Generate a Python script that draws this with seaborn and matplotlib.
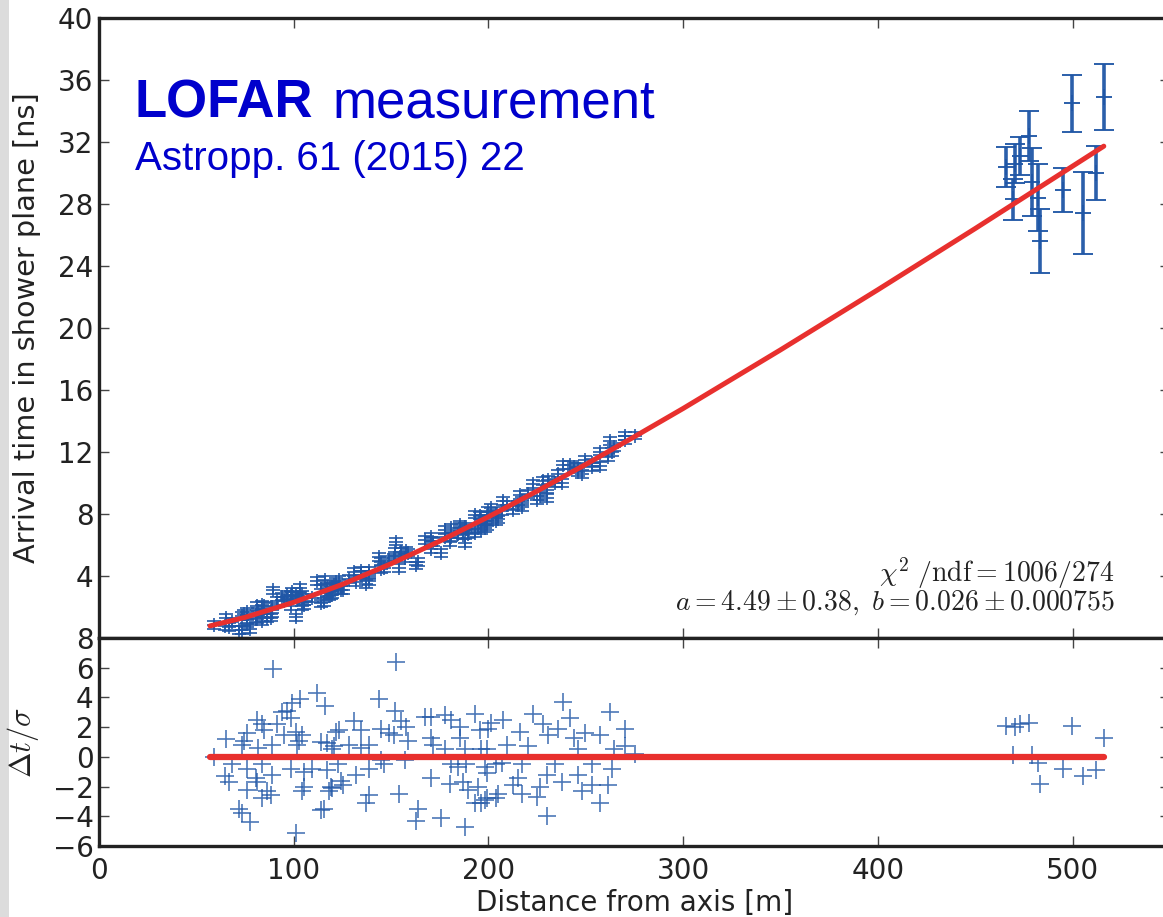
import matplotlib
matplotlib.use("Agg")
import numpy as np
import pandas as pd
import seaborn as sns
import matplotlib.pyplot as plt
from matplotlib.patches import Rectangle

# ---------------- data ----------------
near_distance = [58.9, 64.9, 65.3, 66.6, 68.4, 71.8, 73.5, 73.5, 74.4, 76.1, 76.1, 76.1, 77.8, 80.4,
                 81.3, 81.3, 81.6, 83.9, 83.9, 83.9, 84.5, 86.4, 88.1, 89.0, 89.0, 89.5, 91.6, 94.2,
                 95.0, 96.4, 98.5, 98.5, 99.3, 101.0, 101.0, 101.9, 102.7, 103.1, 104.4, 104.5, 105.3,
                 105.3, 109.6, 111.7, 113.9, 113.9, 115.6, 116.1, 117.3, 117.3, 118.2, 119.0, 119.9,
                 119.9, 120.8, 121.6, 122.5, 123.4, 124.2, 125.1, 128.5, 130.7, 132.0, 134.5, 134.5,
                 137.1, 138.4, 138.8, 138.8, 143.6, 144.8, 144.8, 146.5, 149.1, 151.7, 152.2, 152.6,
                 154.3, 155.2, 156.9, 157.7, 158.6, 162.9, 163.7, 167.2, 170.6, 170.6, 170.6, 171.5,
                 175.8, 177.5, 177.5, 180.0, 180.9, 180.9, 184.3, 185.2, 185.6, 186.9, 187.8, 187.8,
                 188.7, 189.5, 192.9, 192.9, 194.7, 195.5, 196.4, 196.4, 198.0, 198.1, 199.0, 199.0,
                 199.0, 199.8, 201.5, 204.1, 204.1, 205.0, 206.7, 207.6, 209.3, 212.7, 215.3, 216.1,
                 217.0, 217.0, 220.4, 223.0, 224.7, 226.4, 228.2, 229.9, 229.9, 230.8, 234.2, 235.9,
                 237.6, 238.5, 241.9, 243.7, 246.2, 246.2, 247.9, 249.7, 253.1, 253.1, 257.2, 257.4,
                 261.6, 262.5, 263.4, 264.3, 270.2, 270.2, 275.4]
near_time = [0.84, 0.76, 1.27, 0.73, 1.03, 0.53, 1.44, 0.52, 1.53, 1.69, 1.21, 0.93, 0.56, 1.26,
             2.07, 1.23, 1.71, 2.12, 1.58, 1.12, 2.06, 1.31, 1.32, 2.03, 1.63, 3.07, 2.41, 2.67,
             2.41, 2.78, 2.76, 2.08, 2.99, 2.69, 1.33, 2.55, 2.65, 3.22, 2.04, 2.81, 2.35,
             2.15, 2.59, 3.70, 3.15, 2.23, 2.32, 3.73, 3.28, 2.92, 2.68, 2.78, 3.32,
             2.80, 3.40, 3.64, 3.24, 3.75, 3.10, 3.09, 3.81, 4.24, 3.59, 4.33, 4.09,
             3.48, 3.65, 4.35, 4.03, 5.23, 4.89, 4.47, 4.50, 5.06, 5.19, 5.54, 6.22,
             4.54, 5.57, 5.15, 5.64, 5.51, 4.68, 4.89, 6.33, 6.53, 6.25, 5.71, 6.20,
             5.48, 6.97, 6.51, 6.20, 7.12, 6.52, 6.69, 7.15, 7.32, 6.66, 7.15, 6.11,
             7.01, 6.72, 7.96, 6.76, 7.09, 7.90, 7.69, 6.97, 7.55, 7.12, 7.20, 7.86,
             7.54, 8.19, 8.38, 7.99, 7.53, 7.65, 8.18, 8.82, 8.60, 8.28, 8.56, 9.23,
             8.85, 8.45, 9.31, 9.93, 8.92, 9.18, 10.14, 9.58, 9.02, 10.18, 10.01, 10.61,
             10.01, 11.15, 11.16, 11.03, 11.04, 10.70, 10.60, 11.50, 11.32, 11.04, 11.10, 12.03,
             11.65, 12.70, 12.00, 12.33, 13.03, 12.79, 13.06]
near_residual = [0.0, -1.3, 1.2, -1.7, -0.5, -3.5, 0.8, -3.8, 1.1, 1.6, -0.8, -2.2, -4.4, -1.4,
                 2.5, -1.7, 0.6, 2.2, -0.5, -2.8, 1.8, -2.3, -2.6, 0.8, -1.2, 5.9, 2.2, 3.0,
                 1.5, 3.1, 2.6, -0.8, 3.6, 1.7, -5.1, 0.8, 1.1, 3.9, -2.3, 1.5, -1.0,
                 -2.0, -0.8, 4.3, 1.0, -3.6, -3.5, 3.4, 0.9, -0.9, -2.3, -2.0, 0.5,
                 -2.1, 0.7, 1.7, -0.5, 1.8, -1.6, -1.9, 0.8, 2.4, -1.2, 1.8, 0.6,
                 -3.1, -2.6, 0.8, -0.8, 3.9, 1.9, -0.2, -0.5, 1.6, 1.5, 3.1, 6.4,
                 -2.5, 2.4, -0.2, 2.0, 1.1, -4.3, -3.5, 2.7, 2.7, 1.3, -1.4, 0.8,
                 -4.1, 2.8, 0.5, -1.8, 2.5, -0.5, -0.7, 1.3, 2.0, -1.7, 0.5, -4.7,
                 -0.5, -2.2, 2.9, -3.1, -2.0, 1.8, 0.5, -3.1, -0.7, -2.9, -2.8, 0.5,
                 -1.1, 1.9, 2.3, -0.5, -2.8, -2.5, -0.4, 2.5, 0.8, -1.9, -1.4, 1.7,
                 -0.5, -2.5, 0.7, 2.9, -2.7, -2.0, 2.2, -1.2, -4.0, 1.5, -0.5, 1.9,
                 -1.7, 3.7, 2.6, 1.3, 0.5, -1.2, -2.3, 1.6, -0.5, -1.9, -3.1, 1.5,
                 -1.9, 3.0, -0.8, 0.5, 1.9, 0.7, 0.2]
near_time_err = 0.25

far_distance = [465.8, 469.2, 470.4, 473.0, 477.8, 479.0, 482.0, 483.0, 494.8, 499.8, 505.2, 512.0, 516.0]
far_time = [30.4, 28.3, 30.6, 31.1, 32.4, 29.4, 28.4, 25.6, 28.9, 34.5, 27.4, 30.0, 34.9]
far_time_err = [1.28, 1.33, 1.25, 1.22, 1.6, 2.2, 2.15, 2.07, 1.42, 1.83, 2.64, 1.74, 2.14]
far_residual = [2.1, 0.1, 2.0, 2.2, 2.3, 0.1, -0.4, -1.8, -0.8, 2.1, -1.3, -0.9, 1.3]

fit_distance = [57, 75, 100, 125, 150, 175, 200, 225, 250, 275, 300, 350, 400, 450, 516]
fit_time = [0.78, 1.33, 2.30, 3.46, 4.79, 6.25, 7.82, 9.48, 11.20, 12.99, 14.81, 18.59, 22.47, 26.42, 31.73]
zero_line_distance = [57, 516]
zero_line_value = [0, 0]

x_ticks = [0, 100, 200, 300, 400, 500]
top_y_ticks = [4, 8, 12, 16, 20, 24, 28, 32, 36, 40]
bottom_y_ticks = [-6, -4, -2, 0, 2, 4, 6, 8]

title_bold = "LOFAR"
title_rest = "measurement"
subtitle = "Astropp. 61 (2015) 22"
fit_line1 = r"$\chi^2\ /\mathrm{ndf}=1006/274$"
fit_line2 = r"$a=4.49\pm0.38,\ b=0.026\pm0.000755$"

# ---------------- styling ----------------
sns.set_theme(style="white")
plt.rcParams["font.family"] = ["DejaVu Sans"]
plt.rcParams["mathtext.fontset"] = "cm"

BLUE = "#1f56a6"
RED = "#e8302e"
INK = "#222222"

W, H = 1163, 917
fig = plt.figure(figsize=(W / 100, H / 100), dpi=100)
fig.patch.set_facecolor("white")
fig.add_artist(Rectangle((0, 0), 9 / W, 1, transform=fig.transFigure,
                         facecolor="#dcdcdc", edgecolor="none", zorder=-10))

left = 99 / W
width = 1071 / W
ax1 = fig.add_axes([left, 1 - 638 / H, width, 620 / H])
ax2 = fig.add_axes([left, 1 - 846 / H, width, 208 / H], sharex=ax1)

near_df = pd.DataFrame({"d": near_distance, "t": near_time, "r": near_residual})
far_df = pd.DataFrame({"d": far_distance, "t": far_time, "e": far_time_err, "r": far_residual})
fit_df = pd.DataFrame({"d": fit_distance, "t": fit_time})
zero_df = pd.DataFrame({"d": zero_line_distance, "t": zero_line_value})

# top panel: measurements with error bars
ax1.errorbar(near_df["d"], near_df["t"], yerr=near_time_err, fmt="+", color=BLUE,
             ms=10, mew=1.3, elinewidth=1.3, capsize=5, capthick=1.3, alpha=0.9, zorder=2)
ax1.errorbar(far_df["d"], far_df["t"], yerr=far_df["e"], fmt="+", color=BLUE,
             ms=11, mew=1.4, elinewidth=2.6, capsize=7, capthick=1.6, alpha=0.95, zorder=2)
sns.lineplot(data=fit_df, x="d", y="t", ax=ax1, color=RED, lw=3.6, sort=False, zorder=3)

# bottom panel: residuals
resid_all = pd.concat([near_df[["d", "r"]], far_df[["d", "r"]]], ignore_index=True)
sns.scatterplot(data=resid_all, x="d", y="r", ax=ax2, marker="+", s=160, color=BLUE,
                linewidth=1.2, alpha=0.8, zorder=2)
sns.lineplot(data=zero_df, x="d", y="t", ax=ax2, color=RED, lw=4.5, sort=False, zorder=3)

for ax in (ax1, ax2):
    ax.set_facecolor("white")
    for sp in ax.spines.values():
        sp.set_visible(True)
        sp.set_color(INK)
        sp.set_linewidth(2.4)
    ax.tick_params(direction="in", length=7, width=1, colors="#444444", labelcolor=INK,
                   labelsize=20, top=True, right=True, bottom=True, left=True, pad=4)

ax1.set_xlim(0, 550)
ax1.set_ylim(0, 40)
ax2.set_ylim(-6, 8)
ax1.set_xticks(x_ticks)
ax1.set_yticks(top_y_ticks)
ax2.set_yticks(bottom_y_ticks)
ax2.set_yticklabels([str(v).replace("-", "\u2212") for v in bottom_y_ticks])
ax1.tick_params(labelbottom=False)
ax2.tick_params(axis="x", pad=8)

ax1.set_xlabel("")
ax1.set_ylabel("Arrival time in shower plane [ns]", fontsize=20.7, color=INK, labelpad=12)
ax2.set_xlabel("Distance from axis [m]", fontsize=20, color=INK, labelpad=3)
ax2.set_ylabel(r"$\Delta t/\sigma$", fontsize=22, color=INK, labelpad=8)

# title block
fig.text(135 / W, 1 - 118 / H, title_bold, fontsize=38, fontweight="bold", color="#0000cc",
         family="Liberation Sans", va="baseline", ha="left")
fig.text(333 / W, 1 - 118 / H, title_rest, fontsize=38, color="#0000cc",
         family="Liberation Sans", va="baseline", ha="left")
fig.text(135 / W, 1 - 170 / H, subtitle, fontsize=29, color="#0000cc",
         family="Liberation Sans", va="baseline", ha="left")

# fit annotation
fig.text(1115 / W, 1 - 582 / H, fit_line1, fontsize=20, color=INK, ha="right", va="baseline")
fig.text(1115 / W, 1 - 610 / H, fit_line2, fontsize=20, color=INK, ha="right", va="baseline")

fig.savefig("out.png", dpi=100, facecolor=fig.get_facecolor())
